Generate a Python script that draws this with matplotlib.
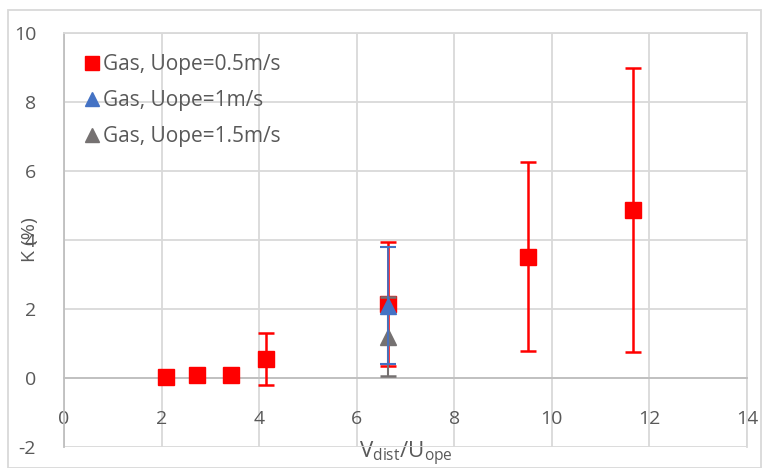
import matplotlib
matplotlib.use("Agg")
import matplotlib.pyplot as plt
from matplotlib.patches import Rectangle

plt.rcParams['font.family'] = ['Open Sans', 'DejaVu Sans']
plt.rcParams['axes.unicode_minus'] = False

# Data
x_05 = [2.1, 2.73, 3.43, 4.14, 6.65, 9.52, 11.67]
y_05 = [0.02, 0.08, 0.08, 0.55, 2.15, 3.52, 4.87]
e_05 = [0.0, 0.0, 0.0, 0.75, 1.8, 2.73, 4.13]

x_10 = [6.65]
y_10 = [2.1]
e_10 = [1.7]

x_15 = [6.65]
y_15 = [1.2]
e_15 = [1.15]

labels = ['Gas, Uope=0.5m/s', 'Gas, Uope=1m/s', 'Gas, Uope=1.5m/s']
xticks = [0, 2, 4, 6, 8, 10, 12, 14]
yticks = [-2, 0, 2, 4, 6, 8, 10]

W, H = 762, 468
fig = plt.figure(figsize=(W/100, H/100), dpi=100)
ax = fig.add_axes([64/W, 1-447/H, (747-64)/W, (447-33)/H])

grid_c = '#d9d9d9'
ax.set_xlim(0, 14)
ax.set_ylim(-2, 10)
ax.set_xticks(xticks)
ax.set_yticks(yticks)
ax.grid(True, color=grid_c, linewidth=1.3)
ax.set_axisbelow(True)

for s in ['top', 'right']:
    ax.spines[s].set_color(grid_c)
    ax.spines[s].set_linewidth(1.3)
ax.spines['left'].set_color('#bfbfbf')
ax.spines['left'].set_linewidth(1.3)
ax.spines['bottom'].set_position(('data', 0))
ax.spines['bottom'].set_color('#bfbfbf')
ax.spines['bottom'].set_linewidth(1.3)
ax.tick_params(axis='both', length=0, labelsize=14, labelcolor='#595959')
ax.tick_params(axis='x', pad=23)
ax.tick_params(axis='y', pad=20)

# Series
h1 = ax.errorbar(x_05, y_05, yerr=e_05, fmt='s', color='#ff0000', ecolor='#ff0000',
                 markersize=11, elinewidth=1.8, capsize=6, capthick=1.8, zorder=3,
                 label=labels[0])
h3 = ax.errorbar(x_15, y_15, yerr=e_15, fmt='^', color='#757171', ecolor='#757171',
                 markersize=11, elinewidth=1.5, capsize=6, capthick=1.8, zorder=4,
                 label=labels[2])
h2 = ax.errorbar(x_10, y_10, yerr=e_10, fmt='^', color='#4472c4', ecolor='#4472c4',
                 markersize=11, elinewidth=1.3, capsize=6, capthick=1.5, zorder=5,
                 label=labels[1])

leg = ax.legend(handles=[h1[0], h2[0], h3[0]], labels=labels, loc='upper left',
                bbox_to_anchor=(0.005, 0.995), frameon=False, fontsize=15,
                handlelength=0.6, handletextpad=0.2, labelspacing=0.72,
                labelcolor='#595959', markerscale=0.95)

ax.set_ylabel('K (%)', fontsize=14, color='#595959')
ax.yaxis.set_label_coords(-0.05, 0.5)
ax.yaxis.label.set_va('center')
ax.set_xlabel(r'$\mathregular{V_{dist}/U_{ope}}$', fontsize=16, color='#595959')
ax.xaxis.set_label_coords(0.5, -0.027)
ax.xaxis.label.set_va('baseline')

# chart border
fig.patches.append(Rectangle((8/W, 0), (761-8)/W, 1-10/H, transform=fig.transFigure,
                             fill=False, edgecolor='#d9d9d9', linewidth=1.3))

fig.savefig('out.png', dpi=100)
